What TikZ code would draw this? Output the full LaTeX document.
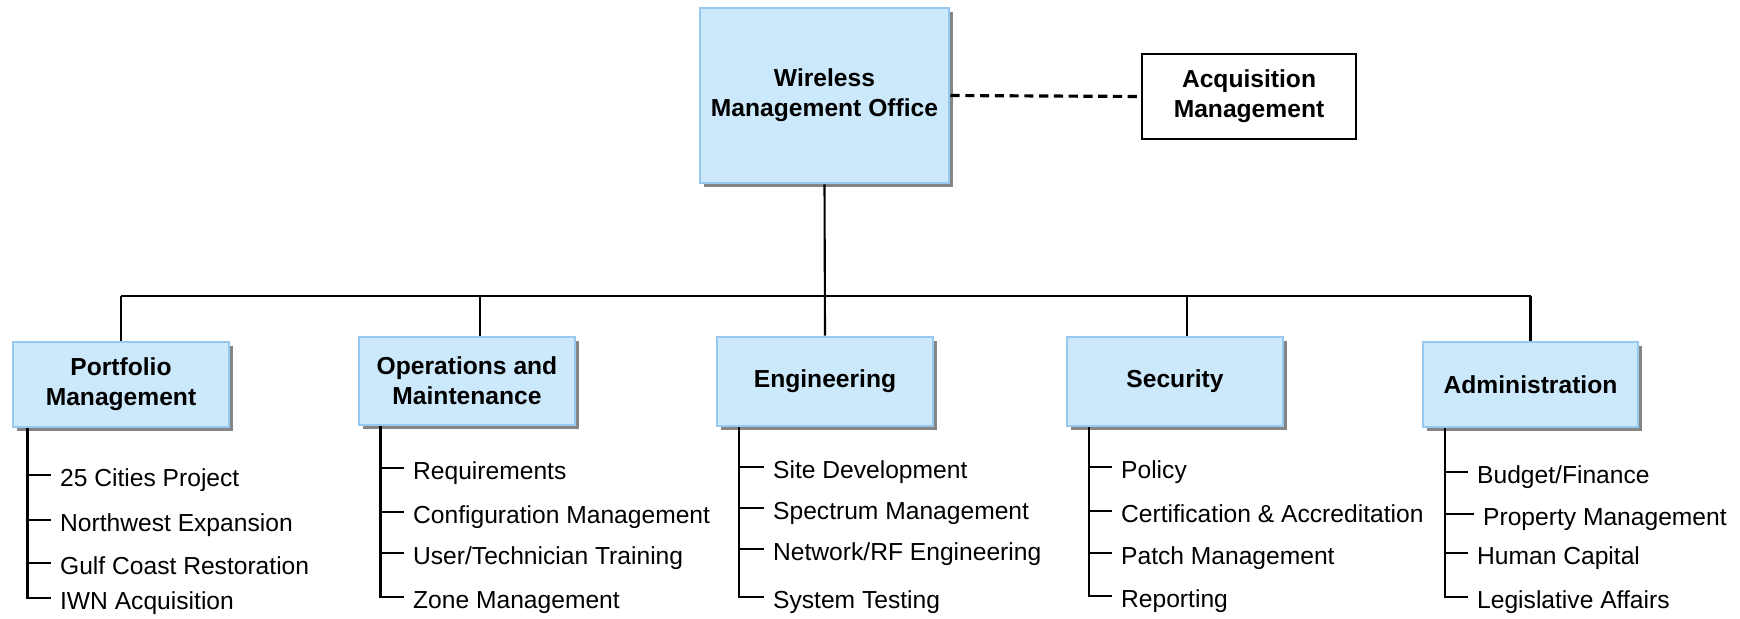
\documentclass[tikz,border=0pt]{standalone}
\usepackage{fontspec}
\setmainfont{Liberation Sans}
\usetikzlibrary{shadows}

\definecolor{boxfill}{RGB}{204,232,251}
\definecolor{boxline}{RGB}{150,200,240}

\begin{document}
\begin{tikzpicture}[x=0.01cm, y=-0.01cm, line width=0.6pt,
  unit/.style={draw=boxline, fill=boxfill, line width=0.8pt, align=center,
    font=\fontsize{7}{8.5}\selectfont\bfseries, inner sep=0pt,
    minimum width=2.16cm, minimum height=0.88cm,
    drop shadow={shadow xshift=0.04cm, shadow yshift=-0.04cm, fill=black!48, opacity=1}},
  staff/.style={draw, fill=white, line width=0.7pt, align=center,
    font=\fontsize{7}{8.5}\selectfont\bfseries, inner sep=0pt,
    minimum width=2.14cm, minimum height=0.85cm},
  task/.style={anchor=west, inner xsep=2.3pt, inner ysep=0pt,
    font=\fontsize{7}{8.5}\selectfont, text height=1.5ex, text depth=0.3ex}]

\useasboundingbox (0,0) rectangle (1740,618);

% Top of the chart
\node[unit, minimum width=2.49cm, minimum height=1.75cm] (wmo) at (824.5,95.5) {Wireless\\Management Office};
\node[staff] (acq) at (1249,96.5) {Acquisition\\Management};
\draw[line width=0.9pt, dash pattern=on 2.6pt off 1.6pt] (wmo.east) -- (acq.west);

% Divisions
\node[unit, minimum height=0.85cm] (port) at (121,384.5) {Portfolio\\Management};
\node[unit] (ops) at (467,381) {Operations and\\Maintenance};
\node[unit, minimum height=0.89cm] (eng) at (825,381.5) {Engineering};
\node[unit, minimum height=0.89cm] (sec) at (1175,381.5) {Security};
\node[unit, minimum width=2.15cm, minimum height=0.85cm] (adm) at (1530.5,384.5) {Administration};

% Bus and drops
\coordinate (bus) at (0,296);
\coordinate (opsdrop) at (480,296);
\coordinate (secdrop) at (1187,296);
\draw (wmo.south) -- (eng.north);
\draw (port.north |- bus) -- (adm.north |- bus);
\draw (port.north |- bus) -- (port.north);
\draw (opsdrop) -- (opsdrop |- ops.north);
\draw (secdrop) -- (secdrop |- sec.north);
\draw (adm.north |- bus) -- (adm.north);

% Portfolio Management tasks
\coordinate (pv) at ([xshift=0.16cm]port.south west);
\node[task] (p1) at (51,475) {25 Cities Project};
\node[task] (p2) at (51,520) {Northwest Expansion};
\node[task] (p3) at (51,563) {Gulf Coast Restoration};
\node[task] (p4) at (51,598) {IWN Acquisition};
\draw (pv) |- (p4.west);
\draw (pv |- p1.west) -- (p1.west);
\draw (pv |- p2.west) -- (p2.west);
\draw (pv |- p3.west) -- (p3.west);

% Operations and Maintenance tasks
\coordinate (ov) at ([xshift=0.23cm]ops.south west);
\node[task] (o1) at (404,468) {Requirements};
\node[task] (o2) at (404,512) {Configuration Management};
\node[task] (o3) at (404,553) {User/Technician Training};
\node[task] (o4) at (404,597) {Zone Management};
\draw (ov) |- (o4.west);
\draw (ov |- o1.west) -- (o1.west);
\draw (ov |- o2.west) -- (o2.west);
\draw (ov |- o3.west) -- (o3.west);

% Engineering tasks
\coordinate (ev) at ([xshift=0.23cm]eng.south west);
\node[task] (e1) at (764,467) {Site Development};
\node[task] (e2) at (764,508) {Spectrum Management};
\node[task] (e3) at (764,549) {Network/RF Engineering};
\node[task] (e4) at (764,597) {System Testing};
\draw (ev) |- (e4.west);
\draw (ev |- e1.west) -- (e1.west);
\draw (ev |- e2.west) -- (e2.west);
\draw (ev |- e3.west) -- (e3.west);

% Security tasks
\coordinate (sv) at ([xshift=0.23cm]sec.south west);
\node[task] (s1) at (1112,467) {Policy};
\node[task] (s2) at (1112,511) {Certification \& Accreditation};
\node[task] (s3) at (1112,553) {Patch Management};
\node[task] (s4) at (1112,596) {Reporting};
\draw (sv) |- (s4.west);
\draw (sv |- s1.west) -- (s1.west);
\draw (sv |- s2.west) -- (s2.west);
\draw (sv |- s3.west) -- (s3.west);

% Administration tasks
\coordinate (av) at ([xshift=0.23cm]adm.south west);
\node[task] (a1) at (1468,472) {Budget/Finance};
\node[task] (a2) at (1474,514) {Property Management};
\node[task] (a3) at (1468,553) {Human Capital};
\node[task] (a4) at (1468,597) {Legislative Affairs};
\draw (av) |- (a4.west);
\draw (av |- a1.west) -- (a1.west);
\draw (av |- a2.west) -- (a2.west);
\draw (av |- a3.west) -- (a3.west);

\end{tikzpicture}
\end{document}
